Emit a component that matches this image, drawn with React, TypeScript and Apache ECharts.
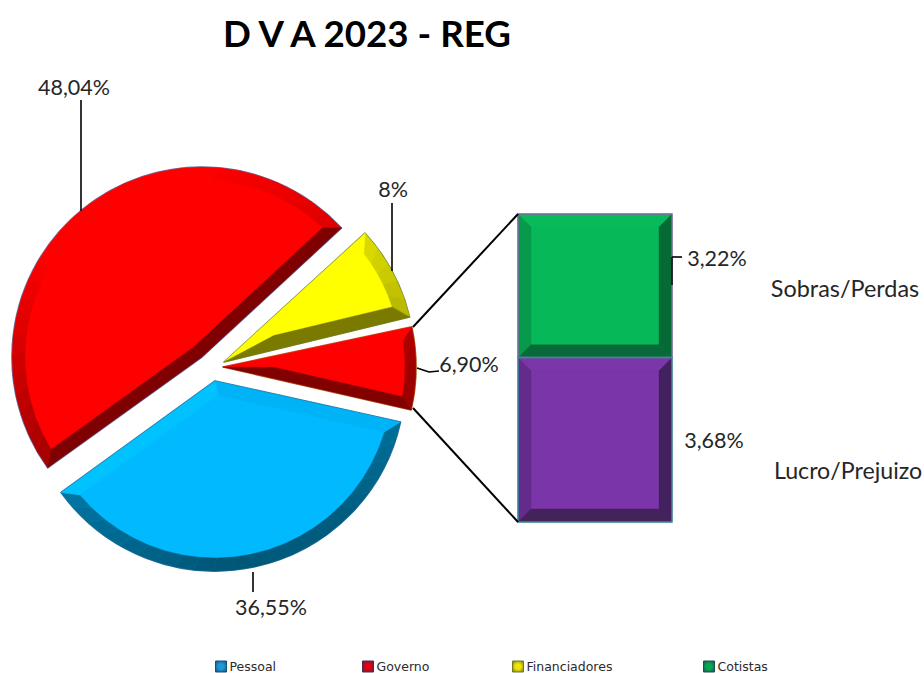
import React, { useEffect, useRef } from "react";
import * as echarts from "echarts";

const title = "D V A 2023 - REG";
const sliceNames = ["Pessoal", "Governo", "Financiadores", "Cotistas"];
const sliceValues = [36.55, 48.04, 8, 6.9];
const sliceLabels = ["36,55%", "48,04%", "8%", "6,90%"];
const sliceColors = ["#00b9ff", "#ff0000", "#ffff00", "#ff0000"];
const sliceBorders = ["#2a6f9e", "#5f82b8", "#74883a", "#b8682a"];
const legendColors = ["#1c9ad6", "#e80010", "#f0e400", "#08a855"];
const legendEdges = ["#154f7a", "#4a2a50", "#6f7a20", "#1f4f50"];
const stackNames = ["Lucro/Prejuizo", "Sobras/Perdas"];
const stackValues = [3.68, 3.22];
const stackLabels = ["3,68%", "3,22%"];

// layout of the exploded slices: [cx, cy, r, start angle clockwise from 3 o'clock, bevel width]
const sliceLayout = [
  [215, 381, 190, 12.5, 13],
  [202, 357, 190, 144.3, 13],
  [224, 362, 191, 317.6, 14],
  [223, 367, 193, 348, 11],
];
const legendLeft = [215, 362, 512, 703];

const shadeStops = [
  [-180, 0.83],
  [-135, 1.06],
  [-90, 1],
  [-45, 0.88],
  [-20, 0.75],
  [0, 0.63],
  [45, 0.5],
  [90, 0.47],
  [135, 0.6],
  [180, 0.83],
];

function shadeFactor(deg: number) {
  let d = ((deg + 180) % 360 + 360) % 360 - 180;
  for (let i = 1; i < shadeStops.length; i++) {
    if (d <= shadeStops[i][0]) {
      const [a, fa] = shadeStops[i - 1];
      const [b, fb] = shadeStops[i];
      return fa + ((fb - fa) * (d - a)) / (b - a);
    }
  }
  return 0.83;
}

function shade(hex: string, f: number) {
  const n = parseInt(hex.slice(1), 16);
  const c = [(n >> 16) & 255, (n >> 8) & 255, n & 255].map((v) => Math.min(255, Math.round(v * f)));
  return `rgb(${c[0]},${c[1]},${c[2]})`;
}

function renderSliceBevel(params: any, api: any) {
  const i = params.dataIndex;
  const [cx, cy, r, startDeg, d] = sliceLayout[i];
  const span = (api.value(0) / 100) * 360;
  const rad = Math.PI / 180;
  const a1 = startDeg * rad;
  const a2 = (startDeg + span) * rad;
  const at = (radius: number, a: number) => [cx + radius * Math.cos(a), cy + radius * Math.sin(a)];
  const ri = r - d;
  const delta = Math.asin(d / ri);
  const b1 = a1 + delta;
  const b2 = a2 - delta;
  const mid = (a1 + a2) / 2;
  const offs = d / Math.sin((a2 - a1) / 2);
  const apexIn = [cx + offs * Math.cos(mid), cy + offs * Math.sin(mid)];
  const apex = [cx, cy];
  const base = sliceColors[i];
  const children: any[] = [];
  const poly = (points: number[][], fill: string) =>
    children.push({
      type: "polygon",
      shape: { points },
      style: { fill, stroke: fill, lineWidth: 0.4 },
    });
  const seg = Math.max(3, Math.ceil(span / 6));
  for (let k = 0; k < seg; k++) {
    const t0 = k / seg;
    const t1 = (k + 1) / seg;
    const o0 = a1 + (a2 - a1) * t0;
    const o1 = a1 + (a2 - a1) * t1;
    const n0 = b1 + (b2 - b1) * t0;
    const n1 = b1 + (b2 - b1) * t1;
    poly([at(r, o0), at(r, o1), at(ri, n1), at(ri, n0)], shade(base, shadeFactor(((o0 + o1) / 2) / rad)));
  }
  // straight edge at the start angle (normal points backwards), and at the end angle
  poly([apex, at(r, a1), at(ri, b1), apexIn], shade(base, shadeFactor(startDeg - 90)));
  poly([apex, at(r, a2), at(ri, b2), apexIn], shade(base, shadeFactor(startDeg + span + 90)));
  return { type: "group", children };
}

function renderStackBevel(params: any, api: any) {
  const i = params.dataIndex;
  const lo = api.coord([0, api.value(1)]);
  const hi = api.coord([0, api.value(2)]);
  const cs = params.coordSys;
  const x0 = cs.x;
  const x1 = cs.x + cs.width;
  const y0 = hi[1];
  const y1 = lo[1];
  const d = 13;
  const cols =
    i === 1
      ? { top: "#08ba5a", left: "#079a4b", right: "#066a37", bottom: "#086a38" }
      : { top: "#7b36aa", left: "#632b8a", right: "#43215f", bottom: "#44225a" };
  const p = (points: number[][], fill: string) => ({
    type: "polygon",
    shape: { points },
    style: { fill, stroke: fill, lineWidth: 0.4 },
  });
  return {
    type: "group",
    children: [
      p([[x0, y0], [x1, y0], [x1 - d, y0 + d], [x0 + d, y0 + d]], cols.top),
      p([[x0, y0], [x0 + d, y0 + d], [x0 + d, y1 - d], [x0, y1]], cols.left),
      p([[x1, y0], [x1, y1], [x1 - d, y1 - d], [x1 - d, y0 + d]], cols.right),
      p([[x0, y1], [x0 + d, y1 - d], [x1 - d, y1 - d], [x1, y1]], cols.bottom),
    ],
  };
}

const FONT = "Lato";

function txt(text: string, x: number, y: number, fontSize = 21.5, fontWeight: any = "normal", fill = "#262626") {
  return {
    type: "text",
    x,
    y,
    z: 20,
    silent: true,
    style: { text, fontFamily: FONT, fontSize, fontWeight, fill, textAlign: "center", textVerticalAlign: "middle" },
  };
}

function leader(points: number[][], lineWidth = 1.6) {
  return {
    type: "polyline",
    z: 15,
    silent: true,
    shape: { points },
    style: { stroke: "#000", lineWidth, fill: "none" },
  };
}

export default function App() {
  const ref = useRef<HTMLDivElement>(null);
  useEffect(() => {
    const chart = echarts.init(ref.current!, null, { renderer: "svg" });
    const pies = sliceValues.map((v, i) => ({
      type: "pie",
      name: sliceNames[i],
      center: [sliceLayout[i][0], sliceLayout[i][1]],
      radius: [0, sliceLayout[i][2]],
      startAngle: -sliceLayout[i][3],
      clockwise: true,
      silent: true,
      label: { show: false },
      labelLine: { show: false },
      emphasis: { disabled: true },
      data: [
        {
          name: sliceNames[i],
          value: v,
          itemStyle: { color: sliceColors[i], borderColor: sliceBorders[i], borderWidth: 1.6 },
        },
        { name: "", value: 100 - v, itemStyle: { color: "transparent", borderWidth: 0 } },
      ],
    }));
    let acc = 0;
    const stackRanges = stackValues.map((v) => {
      const row = [0, acc, acc + v];
      acc += v;
      return row;
    });
    chart.setOption({
      animation: false,
      backgroundColor: "#fff",
      legend: sliceNames.map((n, i) => ({
        data: [n],
        left: legendLeft[i],
        top: 660,
        itemWidth: 11,
        itemHeight: 11,
        itemGap: 0,
        padding: 0,
        selectedMode: false,
        icon: "rect",
        itemStyle: {
          color: {
            type: "radial",
            x: 0.5,
            y: 0.5,
            r: 0.7,
            colorStops: [
              { offset: 0.35, color: legendColors[i] },
              { offset: 1, color: legendEdges[i] },
            ],
          },
          borderColor: legendEdges[i],
          borderWidth: 1,
        },
        textStyle: {
          fontFamily: "DejaVu Sans",
          fontSize: 12.5,
          lineHeight: 11,
          color: "#2a2a2a",
          padding: [0, 0, 0, -2],
        },
      })),
      grid: { left: 518, top: 214, width: 154, height: 308 },
      xAxis: { type: "category", data: ["Cotistas"], show: false },
      yAxis: { type: "value", min: 0, max: 6.9, show: false },
      series: [
        ...pies,
        {
          type: "bar",
          name: stackNames[0],
          stack: "c",
          barWidth: "100%",
          silent: true,
          data: [stackValues[0]],
          itemStyle: { color: "#7a36a8" },
        },
        {
          type: "bar",
          name: stackNames[1],
          stack: "c",
          barWidth: "100%",
          silent: true,
          data: [stackValues[1]],
          itemStyle: { color: "#07b858" },
        },
        {
          type: "custom",
          name: "sliceBevel",
          coordinateSystem: "none",
          z: 8,
          clip: false,
          renderItem: renderSliceBevel,
          data: sliceValues.map((v, i) => [v, i]),
        },
        {
          type: "custom",
          name: "stackBevel",
          coordinateSystem: "cartesian2d",
          z: 8,
          clip: false,
          renderItem: renderStackBevel,
          data: stackRanges,
        },
      ],
      graphic: [
        txt(title, 367, 33, 36.7, "bold", "#000"),
        txt(sliceLabels[1], 74, 87),
        txt(sliceLabels[2], 393, 189),
        txt(sliceLabels[3], 469, 364),
        txt(sliceLabels[0], 271, 607),
        txt(stackLabels[1], 717, 258),
        txt(stackLabels[0], 714, 440),
        txt(stackNames[1], 845, 288, 23.4),
        txt(stackNames[0], 848, 470, 23.2),
        leader([[81, 100], [81, 211]]),
        leader([[392, 203], [392, 271]]),
        leader([[253, 572], [253, 592]]),
        leader([[417, 368], [429, 372], [439, 371]]),
        leader([[672, 257], [682, 257]]),
        leader([[672, 257], [672, 285]], 1.4),
        leader([[518, 214], [413, 327]], 2),
        leader([[518, 522], [413, 408]], 2),
        {
          type: "rect",
          z: 12,
          silent: true,
          shape: { x: 518, y: 214, width: 154, height: 143.6 },
          style: { fill: "none", stroke: "#7a6a9e", lineWidth: 1.5 },
        },
        {
          type: "rect",
          z: 12,
          silent: true,
          shape: { x: 518, y: 357.6, width: 154, height: 164.4 },
          style: { fill: "none", stroke: "#3a8a9a", lineWidth: 1.5 },
        },
      ],
    });
    return () => chart.dispose();
  }, []);
  return <div ref={ref} style={{ position: "absolute", left: 0, top: 0, width: 924, height: 673 }} />;
}
